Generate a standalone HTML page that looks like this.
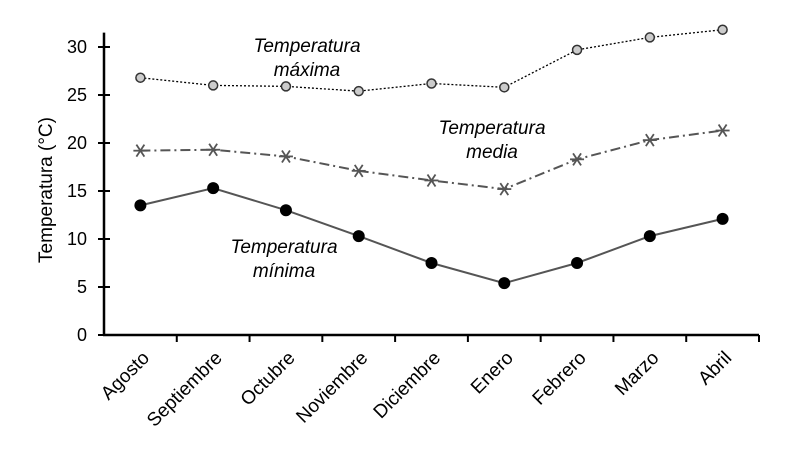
<!DOCTYPE html>
<html><head><meta charset="utf-8"><style>
body{margin:0;background:#fff}
svg text{font-family:"Liberation Sans",Arial,sans-serif}
</style></head><body>
<svg id="c" width="788" height="450" viewBox="0 0 788 450"></svg>
<script>
const categories=["Agosto","Septiembre","Octubre","Noviembre","Diciembre","Enero","Febrero","Marzo","Abril"];
const maxVals=[26.8,26.0,25.9,25.4,26.2,25.8,29.7,31.0,31.8];
const medVals=[19.2,19.3,18.6,17.1,16.1,15.2,18.3,20.3,21.3];
const minVals=[13.5,15.3,13.0,10.3,7.5,5.4,7.5,10.3,12.1];
const yTicks=[0,5,10,15,20,25,30];
const svg=document.getElementById('c');
const NS='http://www.w3.org/2000/svg';
const X0=104,X1=759,Y0=335,PX=9.6;
const bw=(X1-X0)/categories.length;
const xs=i=>X0+bw*(i+0.5);
const ys=v=>Y0-v*PX;
function mk(t,a,p){const e=document.createElementNS(NS,t);for(const k in a)e.setAttribute(k,a[k]);(p||svg).appendChild(e);return e;}
let g=mk('g',{});


mk('line',{x1:X0,y1:ys(31.5),x2:X0,y2:Y0+1,stroke:'#000','stroke-width':2.5},g);
yTicks.forEach(v=>{mk('line',{x1:X0-6,y1:ys(v),x2:X0+6,y2:ys(v),stroke:'#000','stroke-width':2},g);
const t=mk('text',{x:X0-17,y:ys(v)+6,'text-anchor':'end','font-size':18},g);t.textContent=v;

});
const yt=mk('text',{x:52,y:190,'text-anchor':'middle','font-size':19,transform:'rotate(-90 52 190)'});
yt.textContent='Temperatura (°C)';


let gx=mk('g',{});


mk('line',{x1:X0-1,y1:Y0,x2:X1,y2:Y0,stroke:'#000','stroke-width':2.5},gx);
for(let i=1;i<=categories.length;i++)mk('line',{x1:X0+bw*i,y1:Y0,x2:X0+bw*i,y2:Y0+7,stroke:'#000','stroke-width':2},gx);
categories.forEach((c,i)=>{const x=xs(i)+10,y=Y0+24;
const t=mk('text',{x:x,y:y,'text-anchor':'end','font-size':19,transform:`rotate(-45 ${x} ${y})`},gx);t.textContent=c;

});
function series(vals,name,dash,marker){
const gg=mk('g',{});


mk('polyline',{points:vals.map((v,i)=>xs(i)+','+ys(v)).join(' '),fill:'none',stroke:marker==='open'?'#000':'#555','stroke-width':marker==='open'?1.3:2,'stroke-dasharray':dash},gg);
vals.forEach((v,i)=>{const x=xs(i),y=ys(v);let m;
if(marker==='open')m=mk('circle',{cx:x,cy:y,r:4.5,fill:'#ccc',stroke:'#333','stroke-width':1.5},gg);
else if(marker==='dot')m=mk('circle',{cx:x,cy:y,r:6,fill:'#000'},gg);
else{m=mk('g',{stroke:'#555','stroke-width':1.8},gg);
mk('line',{x1:x-7,y1:y,x2:x+7,y2:y},m);mk('line',{x1:x-4,y1:y-6,x2:x+4,y2:y+6},m);mk('line',{x1:x-4,y1:y+6,x2:x+4,y2:y-6},m);}

});}
series(maxVals,'series-maxima','2,2','open');
series(medVals,'series-media','10,4,2,4','star');
series(minVals,'series-minima','','dot');
function lab(x,y,l1,l2,n){const t=mk('text',{x:x,y:y,'text-anchor':'middle','font-size':19,'font-style':'italic'});


const a=mk('tspan',{x:x},t);a.textContent=l1;const b=mk('tspan',{x:x,dy:24},t);b.textContent=l2;}
lab(307,52,'Temperatura','máxima','label-maxima');
lab(492,134,'Temperatura','media','label-media');
lab(284,253,'Temperatura','mínima','label-minima');
</script>
</body></html>
